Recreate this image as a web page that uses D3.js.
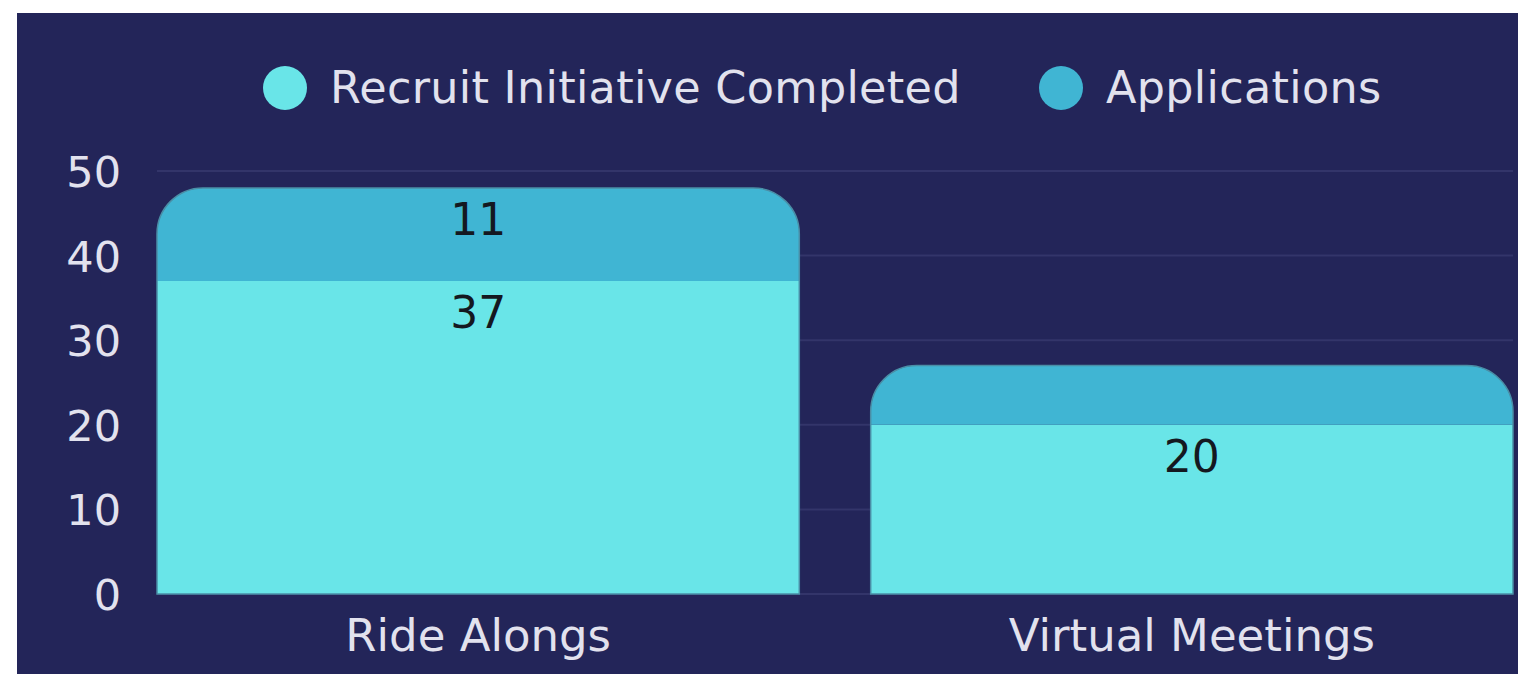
<!DOCTYPE html>
<html>
<head>
<meta charset="utf-8">
<script src="https://cdn.jsdelivr.net/npm/d3@7"></script>
<style>
  html, body { margin: 0; padding: 0; background: #ffffff; }
  svg { display: block; font-family: "DejaVu Sans", sans-serif; }
</style>
</head>
<body>
<div id="chart"></div>
<script>
  // chart data
  const categories = ["Ride Alongs", "Virtual Meetings"];
  const seriesNames = ["Recruit Initiative Completed", "Applications"];
  const completed = [37, 20];
  const applications = [11, 7];
  const yTicks = [0, 10, 20, 30, 40, 50];

  const colors = ["#69e5e8", "#40b5d3"];
  const svgWidth = 1518, svgHeight = 674;
  const margin = { top: 171, left: 157, right: 5, bottom: 80 };

  const svg = d3
    .select("#chart")
    .append("svg")
    .attr("width", svgWidth)
    .attr("height", svgHeight);

  // dark panel
  svg.append("rect")
    .attr("x", 17).attr("y", 13)
    .attr("width", svgWidth - 17).attr("height", svgHeight - 13)
    .attr("fill", "#232559");

  const x = d3.scaleBand()
    .domain(categories)
    .range([margin.left, svgWidth - margin.right])
    .paddingInner(0.1)
    .paddingOuter(0);

  const y = d3.scaleLinear()
    .domain([0, 50])
    .range([594, margin.top]);

  // grid lines
  svg.append("g")
    .selectAll("line")
    .data(yTicks)
    .join("line")
    .attr("x1", margin.left)
    .attr("x2", svgWidth - margin.right)
    .attr("y1", (d) => y(d))
    .attr("y2", (d) => y(d))
    .attr("stroke", "#33356a")
    .attr("stroke-width", 2);

  // y axis labels
  const yAxis = d3.axisLeft(y).tickValues(yTicks).tickSize(0).tickPadding(0);
  const yAxisG = svg.append("g")
    .attr("transform", "translate(121,0)")
    .call(yAxis);
  yAxisG.select(".domain").remove();
  yAxisG.selectAll("text")
    .attr("fill", "#e2e2ee")
    .attr("font-size", 43)
    .attr("font-family", "DejaVu Sans, sans-serif")
    .attr("dy", "0.36em");

  // x axis labels
  const xAxis = d3.axisBottom(x).tickSize(0).tickPadding(0);
  const xAxisG = svg.append("g")
    .attr("transform", "translate(0,619)")
    .call(xAxis);
  xAxisG.select(".domain").remove();
  xAxisG.selectAll("text")
    .attr("fill", "#e2e2ee")
    .attr("font-size", 45)
    .attr("font-family", "DejaVu Sans, sans-serif")
    .attr("dy", "0.7em");

  // stacked data
  const rows = categories.map((c, i) => ({
    category: c,
    completed: completed[i],
    applications: applications[i],
  }));
  const stack = d3.stack().keys(["completed", "applications"]);
  const layers = stack(rows);
  const radius = 46;

  function segPath(x0, x1, y0, y1, rounded) {
    const p = d3.path();
    if (!rounded) {
      p.rect(x0, y1, x1 - x0, y0 - y1);
      return p.toString();
    }
    const r = Math.min(radius, (y0 - y1), (x1 - x0) / 2);
    p.moveTo(x0, y0);
    p.lineTo(x0, y1 + r);
    p.arcTo(x0, y1, x0 + r, y1, r);
    p.lineTo(x1 - r, y1);
    p.arcTo(x1, y1, x1, y1 + r, r);
    p.lineTo(x1, y0);
    p.closePath();
    return p.toString();
  }

  const barG = svg.append("g");
  layers.forEach((layer, li) => {
    const top = li === layers.length - 1;
    barG.append("g")
      .selectAll("path")
      .data(layer)
      .join("path")
      .attr("d", (d) =>
        segPath(x(d.data.category), x(d.data.category) + x.bandwidth(), y(d[0]), y(d[1]), top)
      )
      .attr("fill", colors[li]);
  });

  // thin outline around each bar
  barG.append("g")
    .selectAll("path")
    .data(rows)
    .join("path")
    .attr("d", (d) =>
      segPath(x(d.category), x(d.category) + x.bandwidth(), y(0), y(d.completed + d.applications), true)
    )
    .attr("fill", "none")
    .attr("stroke", "#4a8ea6")
    .attr("stroke-width", 1.5);

  // value labels (skip segments too short to hold text)
  layers.forEach((layer) => {
    svg.append("g")
      .selectAll("text")
      .data(layer.filter((d) => y(d[0]) - y(d[1]) > 70))
      .join("text")
      .attr("x", (d) => x(d.data.category) + x.bandwidth() / 2)
      .attr("y", (d) => y(d[1]) + 47)
      .attr("text-anchor", "middle")
      .attr("font-size", 44)
      .attr("fill", "#141820")
      .text((d) => d[1] - d[0]);
  });

  // legend
  const legendX = [285, 1061];
  const legend = svg.append("g")
    .selectAll("g")
    .data(seriesNames)
    .join("g")
    .attr("transform", (d, i) => `translate(${legendX[i]},88)`);
  legend.append("circle")
    .attr("r", 22)
    .attr("fill", (d, i) => colors[i]);
  legend.append("text")
    .attr("x", 45)
    .attr("y", 15)
    .attr("font-size", 44.5)
    .attr("letter-spacing", 0.3)
    .attr("fill", "#e2e2ee")
    .text((d) => d);
</script>
</body>
</html>
